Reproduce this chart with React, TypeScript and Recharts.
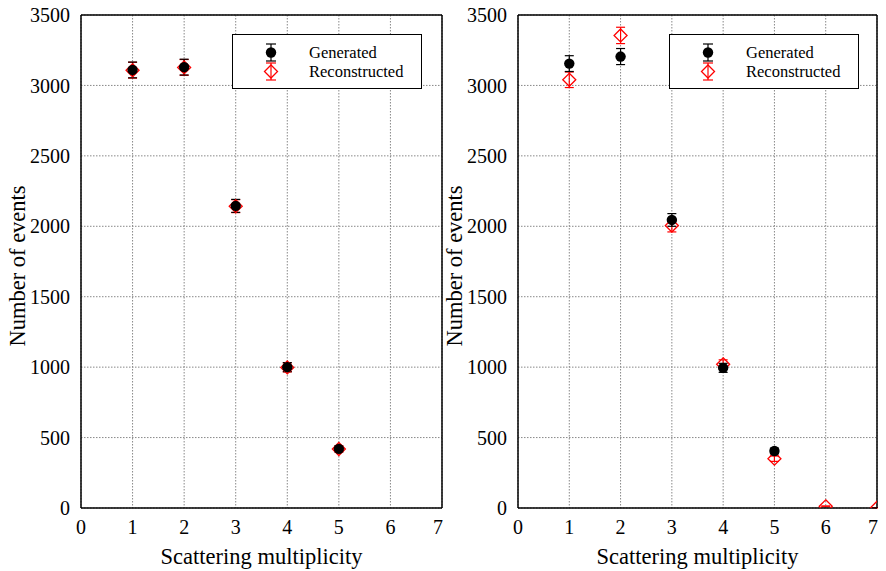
import { ScatterChart, Scatter, XAxis, YAxis, CartesianGrid, ErrorBar, Legend } from 'recharts';

const FONT = "'Liberation Serif', 'Times New Roman', serif";

// left panel
const leftX = [1, 2, 3, 4, 5];
const leftGenerated = [3110, 3130, 2145, 1000, 420];
const leftGeneratedErr = [56, 56, 46, 32, 21];
const leftReconstructed = [3108, 3128, 2143, 998, 419];
const leftReconstructedErr = [56, 56, 46, 32, 20];

// right panel
const rightGenX = [1, 2, 3, 4, 5];
const rightGenerated = [3155, 3205, 2045, 995, 405];
const rightGeneratedErr = [56, 57, 45, 32, 20];
const rightRecX = [1, 2, 3, 4, 5, 6, 7];
const rightReconstructed = [3040, 3355, 2005, 1020, 350, 12, 2];
const rightReconstructedErr = [55, 58, 45, 32, 19, 3, 1];

const xTicks = [0, 1, 2, 3, 4, 5, 6, 7];
const xMinorTicks = [0, 0.5, 1, 1.5, 2, 2.5, 3, 3.5, 4, 4.5, 5, 5.5, 6, 6.5, 7];
const yTicks = [0, 500, 1000, 1500, 2000, 2500, 3000, 3500];
const yMinorTicks = [0, 250, 500, 750, 1000, 1250, 1500, 1750, 2000, 2250, 2500, 2750, 3000, 3250, 3500];

const SERIES = ['Generated', 'Reconstructed'];

type Pt = { x: number; y: number; err: number };
const toPoints = (xs: number[], ys: number[], es: number[]): Pt[] =>
  xs.map((x, i) => ({ x, y: ys[i], err: es[i] }));

const H = 571;
const PLOT_LEFT = 81;

const Dot = (p: any) => <circle cx={p.cx} cy={p.cy} r={5.2} fill="#000" />;
const Diamond = (p: any) => {
  const s = 6.5;
  return (
    <path
      d={`M${p.cx},${p.cy - s}L${p.cx + s},${p.cy}L${p.cx},${p.cy + s}L${p.cx - s},${p.cy}Z`}
      fill="none"
      stroke="#ff0000"
      strokeWidth={1.3}
    />
  );
};

function LegendBox() {
  return (
    <div
      style={{
        width: 190,
        height: 55,
        border: '1.3px solid #000',
        background: '#fff',
        boxSizing: 'border-box',
      }}
    >
      <svg width={188} height={53} style={{ display: 'block' }}>
        {/* generated */}
        <line x1={38} y1={9} x2={38} y2={26} stroke="#000" strokeWidth={1.2} />
        <line x1={33} y1={9} x2={43} y2={9} stroke="#000" strokeWidth={1.2} />
        <line x1={33} y1={26} x2={43} y2={26} stroke="#000" strokeWidth={1.2} />
        <circle cx={38} cy={17.5} r={5.2} fill="#000" />
        {/* reconstructed */}
        <line x1={38} y1={28} x2={38} y2={45} stroke="#f00" strokeWidth={1.2} />
        <line x1={33} y1={28} x2={43} y2={28} stroke="#f00" strokeWidth={1.2} />
        <line x1={33} y1={45} x2={43} y2={45} stroke="#f00" strokeWidth={1.2} />
        <path d="M38,30L44.5,36.5L38,43L31.5,36.5Z" fill="none" stroke="#f00" strokeWidth={1.3} />
        <text x={76} y={23} style={{ fontFamily: FONT, fontSize: 16.5 }} fill="#000">
          {SERIES[0]}
        </text>
        <text x={76} y={42} style={{ fontFamily: FONT, fontSize: 16.5 }} fill="#000">
          {SERIES[1]}
        </text>
      </svg>
    </div>
  );
}

function Panel({
  left,
  width,
  gen,
  rec,
}: {
  left: number;
  width: number;
  gen: Pt[];
  rec: Pt[];
}) {
  const plotRight = width - 1;
  const plotCenter = (PLOT_LEFT + plotRight) / 2;
  const tickStyle = { fontFamily: FONT, fontSize: 20, fill: '#000', style: { fontFamily: FONT } };
  return (
    <div style={{ position: 'absolute', left, top: 0, fontFamily: FONT }}>
      <ScatterChart
        width={width}
        height={H}
        margin={{ top: 15, right: 1, bottom: 0, left: 0 }}
        style={{ fontFamily: FONT }}
      >
        <CartesianGrid stroke="#888" strokeDasharray="1.5 1.5" strokeWidth={1} />
        <XAxis
          type="number"
          dataKey="x"
          domain={[0, 7]}
          ticks={xTicks}
          allowDataOverflow
          height={63}
          tickLine={false}
          axisLine={{ stroke: '#000', strokeWidth: 1.5 }}
          tick={tickStyle}
          tickMargin={6}
          label={() => (
            <text
              x={plotCenter}
              y={564}
              textAnchor="middle"
              style={{ fontFamily: FONT, fontSize: 22.5 }}
              fill="#000"
            >
              Scattering multiplicity
            </text>
          )}
        />
        <XAxis
          xAxisId="xb"
          type="number"
          domain={[0, 7]}
          ticks={xMinorTicks}
          allowDataOverflow
          orientation="bottom"
          mirror
          tick={false}
          axisLine={false}
          tickSize={6}
          tickLine={{ stroke: '#000', strokeWidth: 1.2 }}
        />
        <XAxis
          xAxisId="xt"
          type="number"
          domain={[0, 7]}
          ticks={xMinorTicks}
          allowDataOverflow
          orientation="top"
          mirror
          tick={false}
          axisLine={{ stroke: '#000', strokeWidth: 1.5 }}
          tickSize={6}
          tickLine={{ stroke: '#000', strokeWidth: 1.2 }}
        />
        <YAxis
          type="number"
          dataKey="y"
          domain={[0, 3500]}
          ticks={yTicks}
          allowDataOverflow
          width={PLOT_LEFT}
          tickLine={false}
          axisLine={{ stroke: '#000', strokeWidth: 1.5 }}
          tick={tickStyle}
          tickMargin={5}
          label={() => (
            <text
              x={0}
              y={0}
              transform={`translate(25, 266) rotate(-90)`}
              textAnchor="middle"
              style={{ fontFamily: FONT, fontSize: 22.5 }}
              fill="#000"
            >
              Number of events
            </text>
          )}
        />
        <YAxis
          yAxisId="ym"
          type="number"
          domain={[0, 3500]}
          ticks={yMinorTicks}
          allowDataOverflow
          orientation="left"
          mirror
          tick={false}
          axisLine={false}
          tickSize={5}
          tickLine={{ stroke: '#000', strokeWidth: 1.2 }}
        />
        <YAxis
          yAxisId="yM"
          type="number"
          domain={[0, 3500]}
          ticks={yTicks}
          allowDataOverflow
          orientation="left"
          mirror
          tick={false}
          axisLine={false}
          tickSize={8}
          tickLine={{ stroke: '#000', strokeWidth: 1.2 }}
        />
        <YAxis
          yAxisId="yr"
          type="number"
          domain={[0, 3500]}
          ticks={yMinorTicks}
          allowDataOverflow
          orientation="right"
          mirror
          tick={false}
          axisLine={{ stroke: '#000', strokeWidth: 1.5 }}
          tickSize={6}
          tickLine={{ stroke: '#000', strokeWidth: 1.2 }}
        />
        <Scatter name={SERIES[1]} data={rec} shape={Diamond} isAnimationActive={false}>
          <ErrorBar dataKey="err" direction="y" width={4.5} stroke="#ff0000" strokeWidth={1.2} isAnimationActive={false} />
        </Scatter>
        <Scatter name={SERIES[0]} data={gen} shape={Dot} isAnimationActive={false}>
          <ErrorBar dataKey="err" direction="y" width={4.5} stroke="#000" strokeWidth={1.2} isAnimationActive={false} />
        </Scatter>
        <Legend
          layout="vertical"
          align="center"
          verticalAlign="middle"
          content={() => <LegendBox />}
          wrapperStyle={{ left: PLOT_LEFT + 151, top: 34, width: 190, height: 55 }}
        />
      </ScatterChart>
    </div>
  );
}

export default function App() {
  return (
    <div
      style={{
        position: 'absolute',
        left: 0,
        top: 0,
        width: 886,
        height: H,
        background: '#fff',
        fontFamily: FONT,
      }}
    >
      <Panel
        left={0}
        width={443}
        gen={toPoints(leftX, leftGenerated, leftGeneratedErr)}
        rec={toPoints(leftX, leftReconstructed, leftReconstructedErr)}
      />
      <Panel
        left={437}
        width={441}
        gen={toPoints(rightGenX, rightGenerated, rightGeneratedErr)}
        rec={toPoints(rightRecX, rightReconstructed, rightReconstructedErr)}
      />
    </div>
  );
}
